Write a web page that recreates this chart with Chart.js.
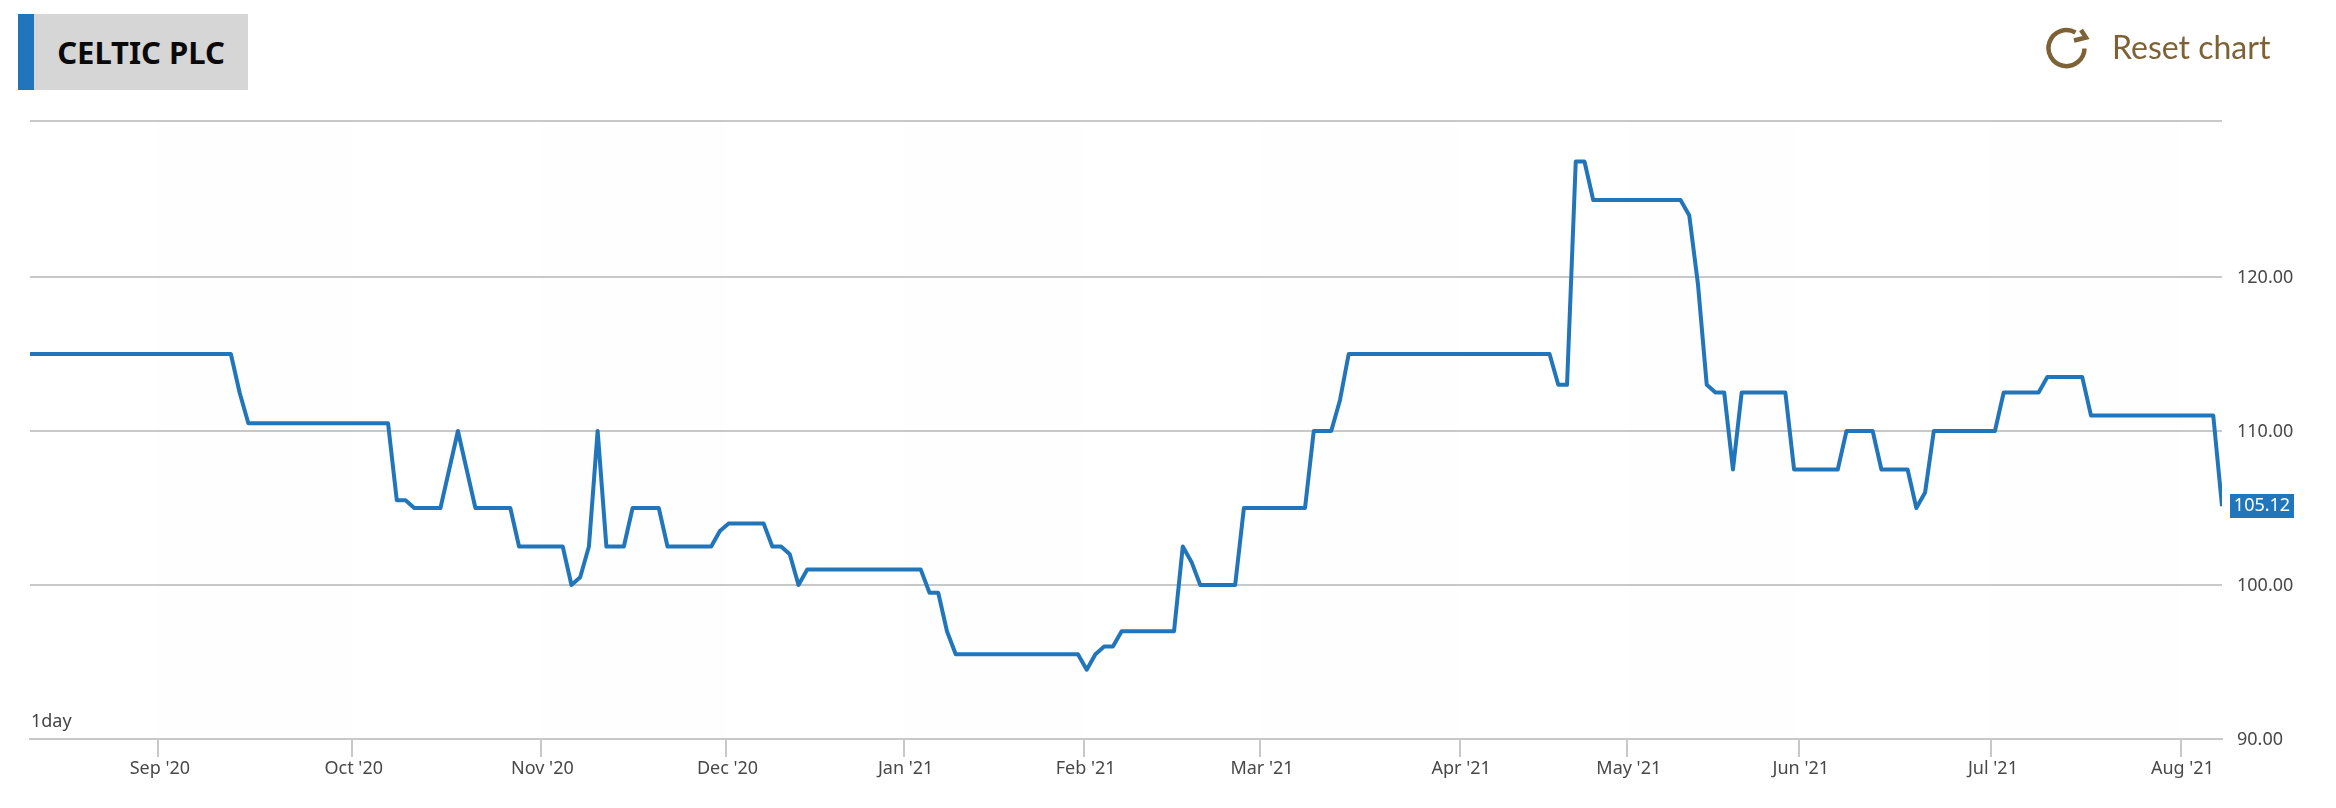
<!DOCTYPE html>
<html>
<head>
<meta charset="utf-8">
<title>CELTIC PLC</title>
<script src="https://cdn.jsdelivr.net/npm/chart.js@4"></script>
<style>
  html, body { margin: 0; padding: 0; background: #fff; }
  #wrap { position: relative; width: 2336px; height: 808px; overflow: hidden; font-family: "Noto Sans", sans-serif; }
  #priceChart { position: absolute; left: 0; top: 0; }
  #title {
    position: absolute; left: 18px; top: 14px; width: 214px; height: 76px;
    background: #d6d6d6; border-left: 16px solid #2176bb;
    line-height: 76px; text-align: center;
    font-size: 31px; font-weight: 700; color: #0a0a0a;
  }
  #reset { position: absolute; left: 2046px; top: 26px; color: #7d6236; }
  #reset svg { position: absolute; left: 0; top: 0; }
  #reset span { position: absolute; left: 66px; top: -1px; font-family: "Lato", sans-serif; font-size: 32px; line-height: 44px; white-space: nowrap; }
  #range { position: absolute; left: 31px; top: 708px; font-size: 18px; line-height: 24px; color: #444; }
</style>
</head>
<body>
<div id="wrap">
  <canvas id="priceChart" width="2336" height="808"></canvas>
  <div id="title">CELTIC PLC</div>
  <div id="reset">
    <svg width="44" height="44" viewBox="0 0 44 44" fill="none" stroke="#7d6236" stroke-width="4.5">
      <path d="M38.5 22.5A18 18 0 1 1 29.5 6.5"/>
      <path d="M28 14.5L40 11.5L35 4"/>
    </svg>
    <span>Reset chart</span>
  </div>
  <div id="range">1day</div>
</div>
<script>
// daily close, one per trading day (ordinal axis, no gaps for weekends)
const closes = [
  115, 115, 115, 115, 115, 115, 115, 115, 115, 115,
  115, 115, 115, 115, 115, 115, 115, 115, 115, 115,
  115, 115, 115, 115, 112.5, 110.5, 110.5, 110.5, 110.5, 110.5,
  110.5, 110.5, 110.5, 110.5, 110.5, 110.5, 110.5, 110.5, 110.5, 110.5,
  110.5, 110.5, 105.5, 105.5, 105, 105, 105, 105, 107.5, 110,
  107.5, 105, 105, 105, 105, 105, 102.5, 102.5, 102.5, 102.5,
  102.5, 102.5, 100, 100.5, 102.5, 110, 102.5, 102.5, 102.5, 105,
  105, 105, 105, 102.5, 102.5, 102.5, 102.5, 102.5, 102.5, 103.5,
  104, 104, 104, 104, 104, 102.5, 102.5, 102, 100, 101,
  101, 101, 101, 101, 101, 101, 101, 101, 101, 101,
  101, 101, 101, 99.5, 99.5, 97, 95.5, 95.5, 95.5, 95.5,
  95.5, 95.5, 95.5, 95.5, 95.5, 95.5, 95.5, 95.5, 95.5, 95.5,
  95.5, 94.5, 95.5, 96, 96, 97, 97, 97, 97, 97,
  97, 97, 102.5, 101.5, 100, 100, 100, 100, 100, 105,
  105, 105, 105, 105, 105, 105, 105, 110, 110, 110,
  112, 115, 115, 115, 115, 115, 115, 115, 115, 115,
  115, 115, 115, 115, 115, 115, 115, 115, 115, 115,
  115, 115, 115, 115, 115, 113, 113, 127.5, 127.5, 125,
  125, 125, 125, 125, 125, 125, 125, 125, 125, 125,
  124, 119.5, 113, 112.5, 112.5, 107.5, 112.5, 112.5, 112.5, 112.5,
  112.5, 112.5, 107.5, 107.5, 107.5, 107.5, 107.5, 107.5, 110, 110,
  110, 110, 107.5, 107.5, 107.5, 107.5, 105, 106, 110, 110,
  110, 110, 110, 110, 110, 110, 112.5, 112.5, 112.5, 112.5,
  112.5, 113.5, 113.5, 113.5, 113.5, 113.5, 111, 111, 111, 111,
  111, 111, 111, 111, 111, 111, 111, 111, 111, 111,
  111, 105.12
];

const monthLabels = ["Sep '20", "Oct '20", "Nov '20", "Dec '20", "Jan '21", "Feb '21", "Mar '21", "Apr '21", "May '21", "Jun '21", "Jul '21", "Aug '21"];
// where each month starts, in trading days from the left edge
const monthTicks = [14.7, 36.9, 58.5, 79.7, 100.1, 120.7, 140.9, 163.7, 182.9, 202.6, 224.6, 246.3];

const priceTicks = [90, 100, 110, 120, 130.13];
const priceLabels = ["90.00", "100.00", "110.00", "120.00", ""];

const lineColor = "#2176bb";
const gridColor = "#c8c8c8";
const textColor = "#484848";

// faint alternating month bands behind the grid
const monthBands = {
  id: "monthBands",
  beforeDraw(chart) {
    const { ctx, chartArea, scales } = chart;
    ctx.save();
    ctx.fillStyle = "#fefefe";
    for (let i = 0; i + 1 < monthTicks.length; i += 2) {
      const a = scales.x.getPixelForValue(monthTicks[i]);
      const b = scales.x.getPixelForValue(monthTicks[i + 1]);
      ctx.fillRect(a, chartArea.top, b - a, chartArea.bottom - chartArea.top);
    }
    ctx.restore();
  }
};

// box with the last price on the right axis
const lastPrice = {
  id: "lastPrice",
  afterDraw(chart) {
    const { ctx, scales } = chart;
    const last = closes[closes.length - 1];
    const y = scales.y.getPixelForValue(last);
    ctx.save();
    ctx.fillStyle = lineColor;
    ctx.fillRect(2230, Math.round(y) - 12, 64, 24);
    ctx.fillStyle = "#fff";
    ctx.font = '18px "Noto Sans"';
    ctx.textAlign = "center";
    ctx.textBaseline = "middle";
    ctx.fillText(last.toFixed(2), 2262, y);
    ctx.restore();
  }
};

new Chart(document.getElementById("priceChart").getContext("2d"), {
  type: "line",
  data: {
    datasets: [{
      data: closes.map((v, i) => ({ x: i, y: v })),
      borderColor: lineColor,
      borderWidth: 4,
      pointRadius: 0,
      tension: 0,
      borderJoinStyle: "round"
    }]
  },
  plugins: [monthBands, lastPrice],
  options: {
    responsive: false,
    animation: false,
    layout: { padding: { top: 121, left: 30, right: 0, bottom: 0 } },
    plugins: { legend: { display: false }, tooltip: { enabled: false } },
    scales: {
      x: {
        type: "linear",
        min: 0,
        max: closes.length - 1,
        afterBuildTicks: scale => { scale.ticks = monthTicks.map(value => ({ value })); },
        afterFit: scale => { scale.height = 69; },
        grid: { drawOnChartArea: false, color: gridColor, lineWidth: 2, tickLength: 18 },
        border: { color: gridColor, width: 2 },
        ticks: {
          autoSkip: false,
          maxRotation: 0,
          padding: 1,
          labelOffset: 1.5,
          color: textColor,
          font: { family: "Noto Sans", size: 18 },
          callback: (value, index) => monthLabels[index]
        }
      },
      y: {
        position: "right",
        min: priceTicks[0],
        max: priceTicks[priceTicks.length - 1],
        afterBuildTicks: scale => { scale.ticks = priceTicks.map(value => ({ value })); },
        afterFit: scale => { scale.width = 114; },
        grid: { color: gridColor, lineWidth: 2, drawTicks: false },
        border: { display: false },
        ticks: {
          padding: 15,
          labelOffset: 1,
          color: textColor,
          font: { family: "Noto Sans", size: 18 },
          callback: (value, index) => priceLabels[index]
        }
      }
    }
  }
});
</script>
</body>
</html>
